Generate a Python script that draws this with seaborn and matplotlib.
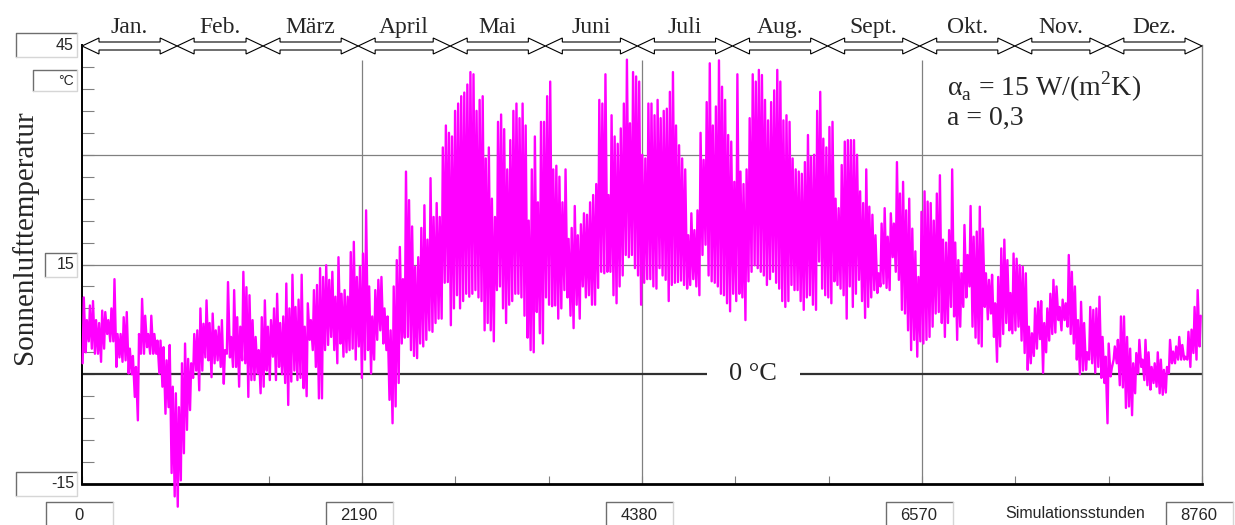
# Sonnenlufttemperatur over one simulated year (hourly), alpha_a = 15 W/(m2K), a = 0,3.
# The hourly trace is rebuilt from the daily minimum / maximum:
# one point per night (min) and one per midday (max), joined by a single line.

import matplotlib
matplotlib.use('Agg')
import matplotlib.pyplot as plt
from matplotlib.patches import Polygon, Rectangle
from matplotlib.lines import Line2D
import seaborn as sns
import pandas as pd
import numpy as np

# daily maximum [°C], day 0 .. 364
t_max = [
    10.5, 7.4, 9.4, 10.0, 7.4, 7.0, 8.7, 8.5, 7.4, 9.0,
    13.0, 5.5, 5.5, 7.8, 8.5, 3.5, 2.5, 1.0, 5.5, 10.3,
    8.0, 5.5, 8.0, 5.5, 4.6, 4.6, 3.7, 1.9, 4.0, -1.7,
    -2.6, -4.5, 1.5, 4.2, 2.1, 1.5, 5.5, 6.0, 9.0, 6.9,
    10.1, 7.0, 8.3, 6.0, 6.5, 7.4, 3.3, 12.6, 5.1, 11.5,
    7.8, 6.5, 14.0, 11.9, 10.8, 7.4, 5.1, 3.3, 7.8, 10.1,
    6.5, 7.4, 9.0, 11.0, 7.0, 7.9, 12.4, 9.0, 13.6, 9.2,
    10.2, 13.6, 6.5, 9.7, 7.4, 11.5, 12.2, 14.5, 13.3, 14.9,
    12.9, 14.0, 10.6, 16.0, 11.0, 11.5, 10.6, 16.7, 18.1, 13.3,
    14.7, 16.5, 22.4, 12.0, 7.9, 11.5, 12.9, 13.3, 9.0, 7.9,
    6.0, 12.0, 15.6, 17.4, 13.0, 27.7, 23.8, 20.2, 14.7, 16.0,
    20.0, 23.1, 18.4, 26.8, 21.5, 23.4, 21.5, 31.0, 34.0, 33.0,
    32.5, 36.0, 37.0, 38.0, 38.5, 39.6, 41.3, 41.0, 36.0, 37.5,
    38.0, 29.5, 31.0, 24.0, 21.5, 34.5, 35.5, 33.5, 28.0, 32.0,
    36.0, 37.0, 35.0, 37.0, 34.0, 21.0, 28.0, 32.5, 23.5, 34.5,
    34.5, 38.0, 40.0, 28.0, 28.5, 27.0, 23.5, 28.0, 18.5, 20.0,
    23.0, 19.0, 20.5, 22.0, 21.8, 23.5, 24.5, 26.0, 37.5, 37.0,
    41.0, 24.5, 35.4, 32.5, 31.5, 33.6, 37.0, 43.0, 34.3, 41.3,
    40.7, 40.0, 30.0, 29.5, 37.0, 37.0, 35.4, 37.5, 35.0, 36.0,
    36.3, 38.6, 41.3, 34.0, 31.3, 29.5, 28.0, 19.0, 22.0, 19.7,
    22.4, 33.0, 29.3, 37.2, 42.5, 34.0, 36.6, 42.9, 39.3, 37.5,
    32.7, 31.8, 26.3, 41.0, 27.7, 26.0, 28.0, 35.0, 41.0, 40.0,
    41.6, 40.9, 37.5, 34.7, 37.2, 38.8, 41.6, 40.0, 34.7, 35.4,
    34.5, 29.5, 28.0, 27.7, 27.4, 29.0, 32.7, 29.7, 30.0, 36.0,
    38.6, 32.2, 31.0, 33.8, 34.5, 24.0, 22.7, 28.6, 31.8, 32.0,
    32.0, 32.0, 30.0, 25.0, 23.4, 28.0, 22.9, 21.8, 19.0, 13.8,
    20.6, 22.7, 18.8, 22.0, 20.6, 29.0, 24.7, 26.3, 22.4, 24.0,
    19.9, 16.8, 13.3, 22.2, 25.0, 23.6, 23.4, 21.0, 24.7, 27.2,
    18.4, 18.0, 19.7, 28.0, 18.0, 15.6, 13.8, 20.4, 16.3, 23.0,
    18.8, 19.5, 22.9, 19.9, 13.8, 12.9, 13.6, 9.7, 13.3, 17.2,
    18.4, 15.6, 11.1, 16.5, 15.8, 14.9, 14.7, 13.8, 6.5, 5.6,
    9.0, 9.9, 10.0, 7.0, 9.0, 11.0, 12.9, 12.0, 9.2, 10.2,
    9.7, 16.3, 14.0, 12.0, 7.4, 9.9, 7.0, 3.0, 9.2, 8.8,
    9.0, 10.6, 5.1, 2.4, 4.2, 0.8, 3.8, 4.7, 7.9, 7.9,
    5.1, 3.5, 1.5, 2.9, 4.7, 2.0, 4.7, 3.0, 1.0, 1.5,
    3.0, 2.0, 0.6, 1.0, 4.7, 3.1, 3.8, 5.1, 4.0, 2.4,
    5.8, 6.1, 9.2, 11.5, 8.0,
]

# daily minimum [°C], day 0 .. 364
t_min = [
    1.5, 3.0, 4.5, 3.5, 2.8, 2.8, 1.7, 3.5, 5.5, 4.5,
    4.5, 1.0, 2.3, 1.7, 1.9, 0.1, 0.0, -3.1, -6.3, 2.8,
    2.8, 3.7, 2.8, 2.8, 2.8, 0.1, -1.7, -5.4, -4.5, -13.5,
    -16.7, -18.1, -14.5, -10.8, -7.6, -4.9, -0.5, 0.5, -2.2, 0.5,
    2.3, 1.9, -0.4, 1.5, 1.9, 1.0, -1.3, 2.8, 2.3, 1.0,
    1.0, -1.7, 1.9, 1.5, -3.1, -0.8, -0.8, 0.1, -2.6, -1.7,
    0.5, -0.8, 2.4, -0.8, 1.0, 0.0, -1.2, -4.2, -1.0, 0.5,
    -0.8, -0.5, -1.9, -3.0, 4.7, 3.3, 1.0, -3.3, -3.3, 3.3,
    4.0, 5.1, 3.3, 1.5, 4.2, 2.4, 3.0, 3.3, 3.5, 2.0,
    3.8, -0.5, 2.0, 3.3, 0.1, 2.0, 4.7, 6.0, 4.2, 3.3,
    -3.5, -6.7, -4.4, -1.2, 4.2, 5.0, 5.1, 3.3, 2.5, 2.2,
    4.2, 3.8, 4.7, 6.0, 5.8, 7.0, 7.6, 7.6, 12.5, 12.6,
    6.7, 9.0, 10.8, 9.0, 10.0, 11.0, 10.6, 11.0, 11.5, 10.5,
    10.0, 6.0, 7.0, 6.0, 4.5, 11.5, 12.0, 9.0, 7.0, 9.5,
    10.0, 11.0, 11.0, 10.5, 8.0, 5.0, 3.3, 3.0, 8.5, 5.6,
    4.2, 10.5, 9.5, 9.3, 9.4, 7.6, 9.0, 11.5, 10.5, 8.0,
    6.3, 9.5, 7.6, 12.0, 10.5, 10.8, 9.5, 9.5, 11.8, 14.0,
    13.8, 14.0, 14.0, 10.8, 9.7, 12.0, 13.5, 16.3, 16.0, 16.3,
    14.5, 13.5, 9.5, 12.5, 13.0, 13.0, 12.0, 11.7, 14.5, 13.5,
    12.9, 10.0, 12.2, 12.5, 12.6, 12.8, 12.2, 11.7, 12.2, 13.0,
    12.0, 10.8, 16.3, 17.7, 13.5, 12.7, 12.5, 12.0, 11.0, 10.8,
    9.7, 8.6, 11.0, 10.0, 11.0, 10.5, 7.4, 12.7, 14.0, 14.9,
    14.5, 14.0, 13.5, 12.2, 13.0, 14.0, 12.5, 11.7, 10.0, 9.2,
    10.0, 12.2, 11.5, 11.5, 10.0, 8.8, 10.5, 10.8, 9.5, 8.8,
    15.4, 11.7, 10.8, 10.5, 9.7, 12.7, 12.2, 11.7, 10.8, 7.6,
    12.0, 9.2, 11.0, 12.9, 10.0, 7.7, 9.2, 10.5, 11.5, 11.1,
    12.0, 12.4, 11.8, 11.5, 16.0, 14.0, 12.9, 8.8, 8.3, 6.0,
    3.3, 4.7, 2.4, 4.5, 4.2, 4.7, 5.1, 6.5, 8.3, 8.5,
    7.0, 5.1, 7.0, 9.2, 7.9, 4.7, 6.5, 9.2, 10.5, 12.0,
    6.5, 5.0, 4.2, 3.8, 9.2, 7.5, 8.3, 5.1, 1.7, 3.8,
    5.5, 7.0, 6.0, 5.6, 6.0, 6.5, 4.6, 2.9, 0.6, 1.5,
    2.5, 3.5, 4.8, 0.2, 3.0, 4.6, 5.5, 5.7, 7.4, 6.0,
    7.4, 6.5, 5.5, 4.2, 2.0, 0.0, 0.5, 0.6, 2.0, 1.5,
    0.2, 1.0, -0.5, -1.2, -6.7, -0.3, 2.0, 1.5, -1.5, -1.8,
    -4.6, -4.4, -5.6, -2.6, 0.1, 1.0, -0.8, -1.5, -2.1, -1.2,
    -1.7, -2.6, -2.8, -2.5, 0.1, 1.5, 1.5, 2.0, 2.0, 2.0,
    2.0, 1.0, 2.9, 2.0, 3.8,
]
assert len(t_max) == 365 and len(t_min) == 365

month_names = ['Jan.', 'Feb.', 'März', 'April', 'Mai', 'Juni',
               'Juli', 'Aug.', 'Sept.', 'Okt.', 'Nov.', 'Dez.']
month_days = [31, 28, 31, 30, 31, 30, 31, 31, 30, 31, 30, 31]
x_label_hours = [0, 2190, 4380, 6570, 8760]
y_label_values = [45, 15, -15]
grid_hours = [2190, 4380, 6570]
grid_temps = [15, 30]

# Settings
W, H = 1235, 525
sans = 'Liberation Sans'
gray = '#808080'

sns.set_style('white')
plt.rcParams['font.family'] = ['Liberation Serif', 'DejaVu Serif']
plt.rcParams['mathtext.fontset'] = 'custom'
plt.rcParams['mathtext.rm'] = 'Liberation Serif'

fig = plt.figure(figsize=(W / 100, H / 100), dpi=100)
ax = fig.add_axes([82 / W, 1 - 484 / H, 1120 / W, 439 / H])

# hourly trace: night minimum at 05:00, midday maximum at 14:00
days = np.arange(len(t_max))
df = pd.DataFrame({
    'hour': np.concatenate([days * 24 + 5, days * 24 + 14]),
    'temp': np.concatenate([t_min, t_max]),
}).sort_values('hour')

sns.lineplot(data=df, x='hour', y='temp', estimator=None, color='#ff00ff',
             lw=1.7, ax=ax, clip_on=False, zorder=5)

ax.set_xlim(0, 8760)
ax.set_ylim(-15, 45)
ax.set_xlabel('')
ax.set_ylabel('')
ax.set_xticks(np.arange(0, 8761, 730))
ax.set_yticks(np.arange(-15, 46, 3))
ax.tick_params(axis='y', left=True, direction='in', length=8.6, width=0.8,
               color=gray, labelleft=False)
ax.tick_params(axis='x', bottom=True, direction='in', length=6, width=0.8,
               color=gray, labelbottom=False)

for s in ['left', 'bottom', 'right', 'top']:
    ax.spines[s].set_visible(True)
ax.spines['top'].set_visible(False)
ax.spines['left'].set_color('black')
ax.spines['left'].set_linewidth(1.4)
ax.spines['bottom'].set_color('black')
ax.spines['bottom'].set_linewidth(2.0)
ax.spines['right'].set_color(gray)
ax.spines['right'].set_linewidth(1.0)

for t in grid_temps:
    ax.axhline(t, color=gray, lw=0.9, zorder=1)
ax.vlines(grid_hours, -15, 43, colors=gray, lw=0.9, zorder=1)
ax.axhline(0, color='#303030', lw=1.6, zorder=2)
ax.text(5250, 0, '0 °C', ha='center', va='center', fontsize=19, zorder=3,
        bbox=dict(boxstyle='square,pad=0.85', fc='white', ec='none'))

ax.text(0.772, 0.885, r'α$_\mathrm{a}$ = 15 W/(m$^\mathrm{2}$K)', transform=ax.transAxes,
        fontsize=20, ha='left', va='baseline')
ax.text(0.772, 0.818, 'a = 0,3', transform=ax.transAxes,
        fontsize=20, ha='left', va='baseline')


def fx(px):
    return px / W


def fy(py):
    return 1 - py / H


def sunken_box(x0, y0, x1, y1):
    # pixel box, origin top-left, light face with a sunken frame
    fig.add_artist(Rectangle((fx(x0), fy(y1)), (x1 - x0) / W, (y1 - y0) / H,
                             transform=fig.transFigure, fc='white', ec='none', zorder=2))
    fig.add_artist(Line2D([fx(x0), fx(x0), fx(x1)], [fy(y1), fy(y0), fy(y0)],
                          transform=fig.transFigure, color='#6e6e6e', lw=1.0, zorder=3))
    fig.add_artist(Line2D([fx(x0), fx(x1), fx(x1)], [fy(y1), fy(y1), fy(y0)],
                          transform=fig.transFigure, color='#d6d6d6', lw=1.0, zorder=3))


def px_x(hour):
    return ax.transData.transform((hour, 0))[0]


def px_y(temp):
    return H - ax.transData.transform((0, temp))[1]


# y value boxes
box_w = {45: 61, 15: 32, -15: 61}
for v in y_label_values:
    py = px_y(v)
    sunken_box(77 - box_w[v], py - 12, 77, py + 12)
    fig.text(fx(74), fy(py), str(v), ha='right', va='center', family=sans,
             fontsize=11.5, zorder=4)
sunken_box(33, 70, 77, 91)
fig.text(fx(74), fy(81), '°C', ha='right', va='center', family=sans, fontsize=10, zorder=4)

# x value boxes
for h in x_label_hours:
    cx = px_x(h) - 3
    sunken_box(cx - 33, 502, cx + 34, 530)
    fig.text(fx(cx), fy(515), str(h), ha='center', va='center', family=sans,
             fontsize=12, zorder=4)
fig.text(fx(1005), fy(513), 'Simulationsstunden', ha='left', va='center',
         family=sans, fontsize=11.5)

fig.text(fx(25), fy(237), 'Sonnenlufttemperatur', rotation=90, ha='center',
         va='center', fontsize=21)

# month arrows along the top edge
edges = np.concatenate([[0], np.cumsum(month_days) * 24])
cy = fy(46)
L, HH, hh = 17, 8, 4
for name, h0, h1 in zip(month_names, edges[:-1], edges[1:]):
    a, b = px_x(h0), px_x(h1)
    pts = [(a, 0), (a + L, HH), (a + L, hh), (b - L, hh), (b - L, HH), (b, 0),
           (b - L, -HH), (b - L, -hh), (a + L, -hh), (a + L, -HH)]
    poly = Polygon([(fx(x), cy + y / H) for x, y in pts], closed=True,
                   transform=fig.transFigure, fc='white', ec='black', lw=0.8, zorder=3)
    fig.add_artist(poly)
    fig.text(fx((a + b) / 2), fy(33), name, ha='center', va='baseline', fontsize=17)

fig.savefig('out.png', dpi=100)
